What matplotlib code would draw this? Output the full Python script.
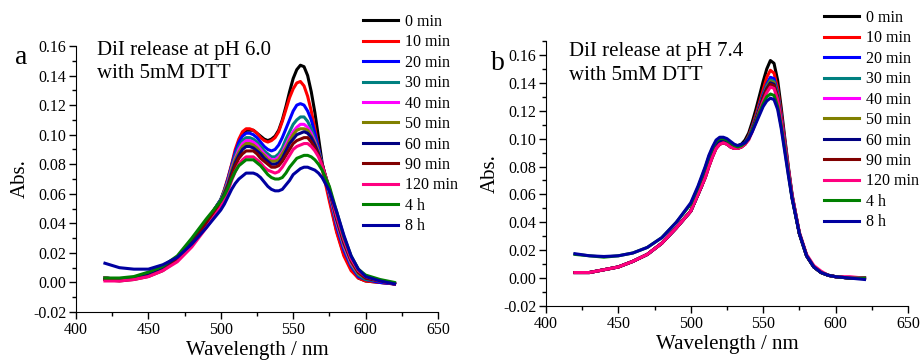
import numpy as np
import matplotlib
matplotlib.use("Agg")
import matplotlib.pyplot as plt
from matplotlib.ticker import MultipleLocator, FormatStrFormatter

plt.rcParams['font.family'] = ['Liberation Serif', 'DejaVu Serif']
plt.rcParams['axes.unicode_minus'] = False

# wavelength grid (nm), finer around the two bands
wavelength = [420, 430, 440, 450, 460, 470, 480, 490,
              500, 502.5, 505, 507.5, 510, 512.5, 515, 517.5, 520, 522.5, 525, 527.5, 530, 532.5, 535, 537.5,
              540, 542.5, 545, 547.5, 550, 552.5, 555, 557.5, 560, 562.5, 565, 567.5, 570,
              575, 580, 585, 590, 595, 600, 610, 620]

labels = ['0 min', '10 min', '20 min', '30 min', '40 min', '50 min', '60 min',
          '90 min', '120 min', '4 h', '8 h']
colors = ['#000000', '#FF0000', '#0000FF', '#008080', '#FF00FF', '#808000',
          '#000080', '#800000', '#FF0080', '#008000', '#0000A0']

# pH 6.0 spectra
a_0min = [0.003, 0.002, 0.003, 0.005, 0.009, 0.016, 0.027, 0.041,
          0.056, 0.062, 0.070, 0.079, 0.088, 0.095, 0.100, 0.103, 0.103, 0.103, 0.101, 0.099, 0.097, 0.096, 0.097, 0.099,
          0.103, 0.110, 0.119, 0.129, 0.138, 0.144, 0.147, 0.146, 0.140, 0.129, 0.115, 0.098, 0.081,
          0.057, 0.035, 0.019, 0.009, 0.003, 0.001, 0.000, -0.001]
a_10min = [0.003, 0.002, 0.003, 0.005, 0.009, 0.016, 0.027, 0.041,
           0.056, 0.063, 0.071, 0.080, 0.090, 0.097, 0.102, 0.104, 0.104, 0.103, 0.101, 0.098, 0.096, 0.095, 0.096, 0.098,
           0.102, 0.109, 0.117, 0.125, 0.131, 0.135, 0.136, 0.133, 0.126, 0.116, 0.104, 0.091, 0.077,
           0.055, 0.034, 0.018, 0.008, 0.003, 0.001, 0.000, -0.001]
a_20min = [0.003, 0.002, 0.003, 0.005, 0.009, 0.016, 0.027, 0.041,
           0.056, 0.062, 0.070, 0.079, 0.088, 0.095, 0.099, 0.101, 0.101, 0.100, 0.098, 0.095, 0.092, 0.090, 0.089, 0.090,
           0.093, 0.098, 0.104, 0.110, 0.116, 0.120, 0.121, 0.120, 0.116, 0.110, 0.101, 0.091, 0.080,
           0.059, 0.038, 0.022, 0.011, 0.004, 0.002, 0.000, -0.001]
a_30min = [0.003, 0.002, 0.003, 0.005, 0.009, 0.016, 0.027, 0.041,
           0.056, 0.062, 0.069, 0.078, 0.086, 0.092, 0.096, 0.098, 0.098, 0.097, 0.095, 0.092, 0.089, 0.087, 0.085, 0.085,
           0.087, 0.091, 0.097, 0.102, 0.107, 0.110, 0.112, 0.112, 0.109, 0.104, 0.097, 0.089, 0.080,
           0.060, 0.040, 0.024, 0.012, 0.005, 0.002, 0.001, -0.001]
a_40min = [0.003, 0.002, 0.003, 0.005, 0.009, 0.016, 0.027, 0.041,
           0.055, 0.061, 0.068, 0.077, 0.084, 0.090, 0.094, 0.096, 0.096, 0.095, 0.093, 0.090, 0.087, 0.085, 0.083, 0.083,
           0.085, 0.088, 0.093, 0.098, 0.102, 0.105, 0.107, 0.107, 0.105, 0.101, 0.095, 0.088, 0.080,
           0.061, 0.041, 0.025, 0.013, 0.006, 0.003, 0.001, -0.001]
a_50min = [0.003, 0.002, 0.003, 0.005, 0.009, 0.016, 0.027, 0.041,
           0.055, 0.061, 0.067, 0.076, 0.083, 0.088, 0.092, 0.094, 0.094, 0.093, 0.091, 0.088, 0.086, 0.083, 0.082, 0.082,
           0.083, 0.087, 0.091, 0.096, 0.100, 0.103, 0.104, 0.104, 0.103, 0.099, 0.094, 0.088, 0.080,
           0.062, 0.042, 0.026, 0.014, 0.006, 0.003, 0.001, -0.001]
a_60min = [0.002, 0.002, 0.003, 0.005, 0.009, 0.016, 0.027, 0.041,
           0.055, 0.060, 0.066, 0.074, 0.081, 0.086, 0.090, 0.092, 0.092, 0.091, 0.089, 0.087, 0.084, 0.082, 0.080, 0.080,
           0.081, 0.084, 0.089, 0.094, 0.097, 0.100, 0.101, 0.102, 0.101, 0.098, 0.093, 0.087, 0.080,
           0.063, 0.043, 0.027, 0.015, 0.007, 0.003, 0.001, -0.001]
a_90min = [0.002, 0.001, 0.002, 0.004, 0.008, 0.015, 0.026, 0.040,
           0.054, 0.059, 0.065, 0.072, 0.079, 0.084, 0.087, 0.089, 0.089, 0.089, 0.087, 0.084, 0.082, 0.080, 0.078, 0.078,
           0.079, 0.082, 0.086, 0.090, 0.094, 0.096, 0.097, 0.098, 0.098, 0.095, 0.091, 0.086, 0.080,
           0.063, 0.044, 0.028, 0.015, 0.007, 0.003, 0.001, -0.001]
a_120min = [0.001, 0.001, 0.002, 0.004, 0.008, 0.014, 0.024, 0.037,
            0.051, 0.056, 0.062, 0.069, 0.075, 0.080, 0.083, 0.085, 0.085, 0.085, 0.083, 0.081, 0.078, 0.076, 0.075, 0.074,
            0.075, 0.078, 0.082, 0.086, 0.090, 0.092, 0.093, 0.094, 0.094, 0.092, 0.089, 0.085, 0.079,
            0.064, 0.045, 0.029, 0.016, 0.008, 0.004, 0.001, -0.001]
a_4h = [0.003, 0.003, 0.004, 0.007, 0.011, 0.018, 0.030, 0.043,
        0.055, 0.059, 0.064, 0.070, 0.075, 0.079, 0.081, 0.083, 0.083, 0.083, 0.081, 0.079, 0.076, 0.073, 0.071, 0.070,
        0.070, 0.071, 0.074, 0.078, 0.081, 0.084, 0.085, 0.086, 0.086, 0.085, 0.083, 0.080, 0.076,
        0.065, 0.048, 0.031, 0.018, 0.009, 0.005, 0.002, 0.000]
a_8h = [0.013, 0.010, 0.009, 0.009, 0.012, 0.017, 0.026, 0.037,
        0.049, 0.053, 0.058, 0.063, 0.067, 0.070, 0.072, 0.074, 0.074, 0.074, 0.073, 0.071, 0.068, 0.065, 0.063, 0.062,
        0.062, 0.063, 0.066, 0.069, 0.073, 0.075, 0.077, 0.078, 0.078, 0.077, 0.076, 0.074, 0.071,
        0.062, 0.048, 0.032, 0.018, 0.009, 0.004, 0.001, -0.001]

# pH 7.4 spectra
b_0min = [0.004, 0.004, 0.006, 0.008, 0.012, 0.017, 0.025, 0.036,
          0.048, 0.054, 0.060, 0.066, 0.073, 0.081, 0.089, 0.095, 0.099, 0.099, 0.098, 0.096, 0.095, 0.095, 0.096, 0.099,
          0.104, 0.112, 0.121, 0.131, 0.141, 0.150, 0.156, 0.154, 0.142, 0.122, 0.100, 0.079, 0.060,
          0.032, 0.016, 0.008, 0.004, 0.002, 0.001, 0.000, 0.000]
b_10min = [0.004, 0.004, 0.006, 0.008, 0.012, 0.017, 0.025, 0.036,
           0.048, 0.054, 0.060, 0.066, 0.073, 0.081, 0.088, 0.094, 0.098, 0.098, 0.097, 0.095, 0.094, 0.094, 0.095, 0.097,
           0.102, 0.109, 0.117, 0.126, 0.135, 0.144, 0.149, 0.147, 0.136, 0.118, 0.098, 0.078, 0.059,
           0.032, 0.016, 0.008, 0.004, 0.002, 0.001, 0.000, 0.000]
b_20min = [0.004, 0.004, 0.006, 0.008, 0.012, 0.017, 0.025, 0.036,
           0.048, 0.054, 0.060, 0.066, 0.073, 0.081, 0.088, 0.094, 0.098, 0.098, 0.097, 0.095, 0.094, 0.094, 0.095, 0.097,
           0.101, 0.108, 0.115, 0.124, 0.132, 0.139, 0.144, 0.143, 0.133, 0.116, 0.097, 0.077, 0.059,
           0.032, 0.016, 0.008, 0.004, 0.002, 0.001, 0.000, 0.000]
b_30min = [0.004, 0.004, 0.006, 0.008, 0.012, 0.017, 0.025, 0.036,
           0.048, 0.054, 0.060, 0.066, 0.073, 0.081, 0.088, 0.094, 0.098, 0.098, 0.097, 0.095, 0.094, 0.094, 0.095, 0.097,
           0.101, 0.107, 0.115, 0.123, 0.131, 0.138, 0.142, 0.141, 0.132, 0.115, 0.096, 0.077, 0.058,
           0.032, 0.016, 0.008, 0.004, 0.002, 0.001, 0.000, 0.000]
b_40min = [0.004, 0.004, 0.006, 0.008, 0.012, 0.017, 0.025, 0.036,
           0.048, 0.054, 0.060, 0.066, 0.072, 0.080, 0.087, 0.093, 0.096, 0.097, 0.096, 0.094, 0.093, 0.093, 0.094, 0.096,
           0.100, 0.106, 0.114, 0.122, 0.130, 0.136, 0.140, 0.139, 0.130, 0.114, 0.096, 0.077, 0.058,
           0.032, 0.016, 0.008, 0.004, 0.002, 0.001, 0.000, 0.000]
b_50min = [0.004, 0.004, 0.006, 0.008, 0.012, 0.017, 0.025, 0.036,
           0.048, 0.054, 0.060, 0.066, 0.072, 0.080, 0.087, 0.093, 0.096, 0.097, 0.096, 0.094, 0.093, 0.093, 0.094, 0.096,
           0.100, 0.107, 0.114, 0.122, 0.130, 0.137, 0.141, 0.140, 0.131, 0.114, 0.096, 0.077, 0.058,
           0.032, 0.016, 0.008, 0.004, 0.002, 0.001, 0.000, 0.000]
b_60min = [0.004, 0.004, 0.006, 0.008, 0.012, 0.017, 0.025, 0.036,
           0.048, 0.054, 0.060, 0.066, 0.073, 0.081, 0.088, 0.094, 0.098, 0.098, 0.097, 0.095, 0.094, 0.094, 0.095, 0.097,
           0.100, 0.106, 0.114, 0.122, 0.130, 0.136, 0.140, 0.139, 0.130, 0.114, 0.096, 0.077, 0.058,
           0.032, 0.016, 0.008, 0.004, 0.002, 0.001, 0.000, 0.000]
b_90min = [0.004, 0.004, 0.006, 0.008, 0.012, 0.017, 0.025, 0.036,
           0.048, 0.054, 0.060, 0.066, 0.072, 0.080, 0.087, 0.093, 0.096, 0.097, 0.096, 0.094, 0.093, 0.093, 0.094, 0.096,
           0.100, 0.106, 0.113, 0.121, 0.129, 0.135, 0.139, 0.138, 0.129, 0.113, 0.095, 0.076, 0.058,
           0.032, 0.016, 0.008, 0.004, 0.002, 0.001, 0.000, 0.000]
b_120min = [0.004, 0.004, 0.006, 0.008, 0.012, 0.017, 0.025, 0.036,
            0.048, 0.054, 0.060, 0.066, 0.072, 0.080, 0.087, 0.093, 0.096, 0.097, 0.096, 0.094, 0.093, 0.093, 0.094, 0.096,
            0.099, 0.105, 0.112, 0.120, 0.127, 0.133, 0.137, 0.136, 0.128, 0.113, 0.095, 0.077, 0.059,
            0.033, 0.017, 0.009, 0.005, 0.002, 0.001, 0.001, 0.000]
b_4h = [0.017, 0.016, 0.015, 0.016, 0.018, 0.022, 0.029, 0.040,
        0.053, 0.059, 0.065, 0.072, 0.079, 0.087, 0.093, 0.098, 0.100, 0.100, 0.099, 0.097, 0.095, 0.094, 0.095, 0.097,
        0.100, 0.106, 0.112, 0.119, 0.125, 0.130, 0.132, 0.131, 0.123, 0.109, 0.092, 0.074, 0.057,
        0.032, 0.016, 0.008, 0.004, 0.002, 0.001, 0.000, 0.000]
b_8h = [0.0175, 0.016, 0.0155, 0.016, 0.018, 0.022, 0.029, 0.040,
        0.054, 0.060, 0.066, 0.073, 0.080, 0.088, 0.094, 0.099, 0.101, 0.101, 0.100, 0.098, 0.096, 0.095, 0.096, 0.097,
        0.100, 0.105, 0.111, 0.117, 0.123, 0.127, 0.129, 0.128, 0.121, 0.107, 0.090, 0.073, 0.057,
        0.032, 0.016, 0.008, 0.004, 0.002, 0.001, 0.000, -0.001]

ph60 = [a_0min, a_10min, a_20min, a_30min, a_40min, a_50min, a_60min, a_90min, a_120min, a_4h, a_8h]
ph74 = [b_0min, b_10min, b_20min, b_30min, b_40min, b_50min, b_60min, b_90min, b_120min, b_4h, b_8h]

fig = plt.figure(figsize=(9.23, 3.6), dpi=100)
ax1 = fig.add_axes([0.0823, 0.1333, 0.3922, 0.7389])
ax2 = fig.add_axes([0.5915, 0.15, 0.3922, 0.7361])


def style(ax, ytop):
    for s in ['top', 'right']:
        ax.spines[s].set_visible(False)
    ax.set_xlim(400, 650)
    ax.set_ylim(-0.02, ytop)
    ax.xaxis.set_major_locator(MultipleLocator(50))
    ax.xaxis.set_minor_locator(MultipleLocator(25))
    ax.yaxis.set_major_locator(MultipleLocator(0.02))
    ax.yaxis.set_minor_locator(MultipleLocator(0.01))
    ax.yaxis.set_major_formatter(FormatStrFormatter('%.2f'))
    ax.tick_params(which='major', direction='out', length=5, width=1, labelsize=11.5, pad=2)
    ax.tick_params(which='minor', direction='out', length=3, width=1)
    ax.set_xlabel('Wavelength / nm', fontsize=15, labelpad=2)
    ax.set_ylabel('Abs.', fontsize=15, labelpad=2)


for ax, data, ytop in [(ax1, ph60, 0.16), (ax2, ph74, 0.17)]:
    for vals, lab, c in zip(data, labels, colors):
        ax.plot(wavelength, vals, color=c, lw=2.2, label=lab)
    style(ax, ytop)

ax1.text(0.057, 1.02, 'DiI release at pH 6.0\nwith 5mM DTT', transform=ax1.transAxes,
         fontsize=15, va='top', ha='left', linespacing=1.3)
ax2.text(0.063, 0.995, 'DiI release at pH 7.4\nwith 5mM DTT', transform=ax2.transAxes,
         fontsize=15, va='top', ha='left', linespacing=1.3)
fig.text(15 / 923, 1 - 58 / 360, 'a', fontsize=20, va='center', ha='left')
fig.text(491 / 923, 1 - 63 / 360, 'b', fontsize=20, va='center', ha='left')

for ax, x0, y0 in [(ax1, 363 / 923, 0.962), (ax2, 824 / 923, 0.973)]:
    ax.legend(loc='upper left', bbox_to_anchor=(x0, y0), bbox_transform=fig.transFigure,
              frameon=False, fontsize=11.5, handlelength=2.2, handletextpad=0.4,
              labelspacing=0.28, borderpad=0, borderaxespad=0)

fig.savefig('out.png', dpi=100)
